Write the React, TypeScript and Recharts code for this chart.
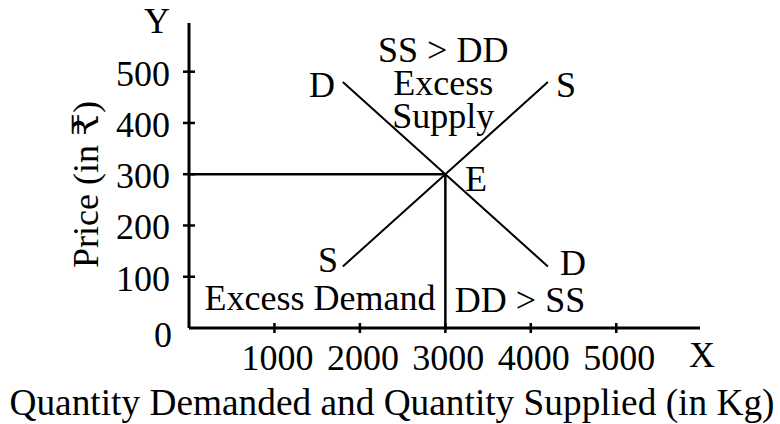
import { LineChart, Line, XAxis, YAxis, ReferenceLine, ReferenceDot } from "recharts";

const demandCurve = [
  { q: 1800, p: 480 },
  { q: 3000, p: 300 },
  { q: 4200, p: 120 },
];
const supplyCurve = [
  { q: 1800, p: 120 },
  { q: 3000, p: 300 },
  { q: 4200, p: 480 },
];
const equilibrium = { q: 3000, p: 300 };
const quantityTicks = [1000, 2000, 3000, 4000, 5000];
const priceTicks = [0, 100, 200, 300, 400, 500];

// text anchored in data units (centre of the first baseline)
const notes = [
  { q: 2975, p: 518, lines: ["SS > DD", "Excess", "Supply"] },
  { q: 1555, p: 451, lines: ["D"] },
  { q: 4412, p: 451, lines: ["S"] },
  { q: 3359, p: 268, lines: ["E"] },
  { q: 1627, p: 110, lines: ["S"] },
  { q: 4494, p: 104, lines: ["D"] },
  { q: 1533, p: 36, lines: ["Excess Demand"] },
  { q: 3874, p: 32, lines: ["DD > SS"] },
  { q: -374, p: 576, lines: ["Y"] },
  { q: 6003, p: -77, lines: ["X"] },
];

const FONT = "'Liberation Serif', 'DejaVu Serif', 'Noto Sans', serif";

function QuantityTick({ x, y, payload }: { x?: number; y?: number; payload?: { value: number } }) {
  if (x == null || y == null || !payload) return null;
  return (
    <g>
      <line x1={x} x2={x} y1={y - 5} y2={y + 5} stroke="#000" strokeWidth={2.5} />
      <text x={x + 3} y={y + 42} textAnchor="middle" fill="#000" fontSize={36} fontFamily={FONT}>
        {payload.value}
      </text>
    </g>
  );
}

function PriceTick({ x, y, payload }: { x?: number; y?: number; payload?: { value: number } }) {
  if (x == null || y == null || !payload) return null;
  const zero = payload.value === 0;
  return (
    <g>
      {!zero && <line x1={x - 6} x2={x + 6} y1={y} y2={y} stroke="#000" strokeWidth={2.5} />}
      <text x={zero ? x - 17 : x - 19} y={y + (zero ? 19 : 14)} textAnchor="end" fill="#000" fontSize={36} fontFamily={FONT}>
        {payload.value}
      </text>
    </g>
  );
}

function QuantityTitle({ viewBox }: { viewBox?: { x: number; y: number; width: number; height: number } }) {
  if (!viewBox) return null;
  return (
    <text
      x={viewBox.x + 203}
      y={viewBox.y + 87}
      textAnchor="middle"
      fill="#000"
      fontSize={37}
      fontFamily={FONT}
      textLength={765}
      lengthAdjust="spacingAndGlyphs"
    >
      Quantity Demanded and Quantity Supplied (in Kg)
    </text>
  );
}

function PriceTitle({ viewBox }: { viewBox?: { x: number; y: number; width: number; height: number } }) {
  if (!viewBox) return null;
  const cx = viewBox.x + 98;
  const cy = viewBox.y + viewBox.height / 2 + 9;
  return (
    <text
      x={cx}
      y={cy}
      transform={`rotate(-90 ${cx} ${cy})`}
      textAnchor="middle"
      fill="#000"
      fontSize={36}
      fontFamily={FONT}
    >
      Price (in ₹)
    </text>
  );
}

export default function App() {
  return (
    <div style={{ position: "absolute", left: 0, top: 0, width: 780, height: 424, background: "#fff" }}>
      <LineChart width={780} height={424} margin={{ top: 23, right: 80, bottom: 0, left: 0 }}>
        <XAxis
          type="number"
          dataKey="q"
          domain={[0, 5980]}
          ticks={quantityTicks}
          interval={0}
          tickSize={0}
          tickMargin={0}
          tickLine={false}
          axisLine={{ stroke: "#000", strokeWidth: 3 }}
          tick={<QuantityTick />}
          height={96}
          label={<QuantityTitle />}
        />
        <YAxis
          type="number"
          dataKey="p"
          domain={[0, 595]}
          ticks={priceTicks}
          interval={0}
          tickSize={0}
          tickMargin={0}
          tickLine={false}
          axisLine={{ stroke: "#000", strokeWidth: 3 }}
          tick={<PriceTick />}
          width={189}
          label={<PriceTitle />}
        />
        <ReferenceLine
          segment={[{ x: 0, y: equilibrium.p }, { x: equilibrium.q, y: equilibrium.p }]}
          stroke="#000"
          strokeWidth={2.5}
        />
        <ReferenceLine
          segment={[{ x: equilibrium.q, y: 0 }, { x: equilibrium.q, y: equilibrium.p }]}
          stroke="#000"
          strokeWidth={2.5}
        />
        <Line data={demandCurve} dataKey="p" type="linear" stroke="#000" strokeWidth={2} dot={false} isAnimationActive={false} />
        <Line data={supplyCurve} dataKey="p" type="linear" stroke="#000" strokeWidth={2} dot={false} isAnimationActive={false} />
        {notes.map((n, i) => (
          <ReferenceDot
            key={i}
            x={n.q}
            y={n.p}
            r={0}
            ifOverflow="visible"
            shape={(props: { cx?: number; cy?: number }) => (
              <text x={props.cx} y={props.cy} textAnchor="middle" fill="#000" fontSize={36} fontFamily={FONT}>
                {n.lines.map((line, j) => (
                  <tspan key={j} x={props.cx} dy={j === 0 ? 0 : 33}>
                    {line}
                  </tspan>
                ))}
              </text>
            )}
          />
        ))}
      </LineChart>
    </div>
  );
}
